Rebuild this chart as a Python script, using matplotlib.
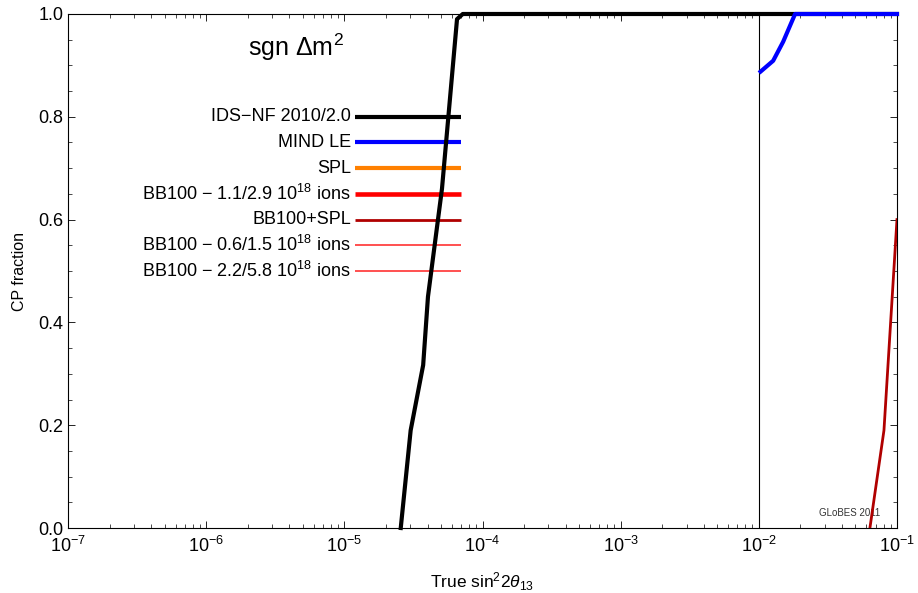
import numpy as np
import matplotlib
matplotlib.use('Agg')
import matplotlib.pyplot as plt

plt.rcParams['font.family'] = ['Liberation Sans', 'DejaVu Sans']
plt.rcParams['mathtext.fontset'] = 'custom'
plt.rcParams['mathtext.rm'] = 'Liberation Sans'
plt.rcParams['mathtext.it'] = 'Liberation Sans:italic'

# curves
ids_x = [2.56e-5, 3.02e-5, 3.72e-5, 4.03e-5, 5.09e-5, 6.54e-5, 7.2e-5, 1e-1]
ids_y = [0.0, 0.19, 0.317, 0.45, 0.66, 0.99, 1.0, 1.0]

mind_x = [1.03e-2, 1.27e-2, 1.50e-2, 1.83e-2, 1e-1]
mind_y = [0.888, 0.909, 0.946, 1.0, 1.0]

bbspl_x = [0.0637, 0.0805, 0.1]
bbspl_y = [0.0, 0.19, 0.6]

# legend entries (drawn in data coords like the original)
leg_labels = ['IDS\u2212NF 2010/2.0', 'MIND LE', 'SPL',
              r'BB100 $-$ 1.1/2.9 10$^{18}$ ions', 'BB100+SPL',
              r'BB100 $-$ 0.6/1.5 10$^{18}$ ions',
              r'BB100 $-$ 2.2/5.8 10$^{18}$ ions']
leg_colors = ['black', '#0000ff', '#ff8000', '#ff0000', '#b00000', '#ff2020', '#ff2020']
leg_widths = [3.0, 3.0, 3.0, 3.3, 2.0, 1.1, 1.1]
leg_y = [0.8, 0.75, 0.7, 0.65, 0.6, 0.55, 0.5]

fig = plt.figure(figsize=(9.18, 5.93), dpi=100)
ax = fig.add_axes([0.0741, 0.1096, 0.9030, 0.8668])

ax.axvline(1e-2, color='black', lw=0.8)
ax.plot(ids_x, ids_y, color='black', lw=3.0, clip_on=False, zorder=3)
ax.plot(mind_x, mind_y, color='#0000ff', lw=3.0, clip_on=False, zorder=4)
ax.plot(bbspl_x, bbspl_y, color='#b00000', lw=2.0, clip_on=True, zorder=4)

for lab, c, w, y in zip(leg_labels, leg_colors, leg_widths, leg_y):
    ax.plot([1.2e-5, 7e-5], [y, y], color=c, lw=w, solid_capstyle='butt')
    ax.text(1.12e-5, y, lab, ha='right', va='center', fontsize=13)

ax.text(4.5e-6, 0.935, r'sgn $\Delta$m$^2$', ha='center', va='center', fontsize=18)
ax.text(0.0753, 0.02, 'GLoBES 2011', ha='right', va='bottom', fontsize=7, color='#333333')

ax.set_xscale('log')
ax.set_xlim(1e-7, 1e-1)
ax.set_ylim(0, 1)
ax.set_yticks([0, 0.2, 0.4, 0.6, 0.8, 1.0])
ax.set_yticks(np.arange(0, 1.0001, 0.05), minor=True)
ax.tick_params(which='both', direction='in', top=True, right=True, labelsize=13)
ax.tick_params(axis='x', pad=6)
ax.tick_params(which='major', length=5, width=0.6)
ax.tick_params(which='minor', length=3, width=0.5)
for s in ax.spines.values():
    s.set_linewidth(0.8)

ax.set_xlabel(r'True sin$^2$2$\theta_{13}$', fontsize=12.5, labelpad=10)
ax.set_ylabel('CP fraction', fontsize=11.5, labelpad=8)

fig.savefig('out.png', dpi=100)
